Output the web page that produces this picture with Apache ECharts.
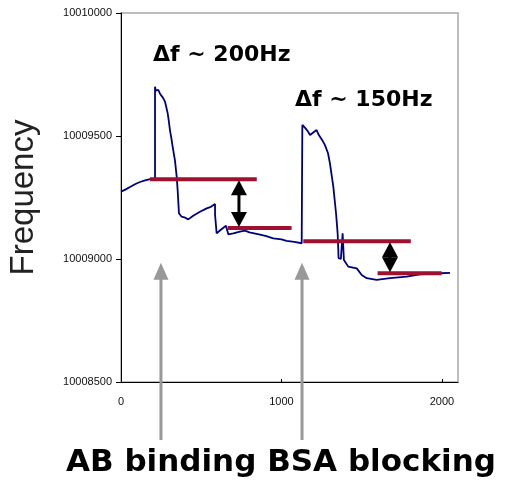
<!DOCTYPE html>
<html>
<head>
<meta charset="utf-8">
<script src="https://cdn.jsdelivr.net/npm/echarts@6/dist/echarts.min.js"></script>
<style>
  html, body { margin: 0; padding: 0; background: #fff; }
  #chart { width: 506px; height: 482px; }
</style>
</head>
<body>
<div id="chart"></div>
<script>
// Sensor resonance frequency trace (time in s, frequency in Hz)
const time = [0, 30, 56, 90, 118, 150, 181, 212, 212, 217, 222, 232, 243, 254, 262, 274, 282, 291, 298, 305, 314, 322, 336, 347, 353, 361, 378, 400, 419, 450, 492, 534, 560, 586, 586, 596, 620, 654, 669, 700, 741, 773, 800, 845, 900, 949, 1000, 1032, 1080, 1126, 1130, 1130, 1150, 1165, 1178, 1200, 1219, 1232, 1240, 1255, 1271, 1290, 1302, 1323, 1340, 1350, 1356, 1370, 1381, 1389, 1416, 1469, 1479, 1500, 1531, 1593, 1676, 1780, 1863, 1988, 2050];
const freq = [10009274, 10009283, 10009293, 10009305, 10009313, 10009320, 10009325, 10009327, 10009700, 10009684, 10009680, 10009688, 10009672, 10009667, 10009655, 10009640, 10009618, 10009592, 10009560, 10009524, 10009490, 10009456, 10009402, 10009335, 10009280, 10009186, 10009172, 10009168, 10009161, 10009176, 10009192, 10009206, 10009212, 10009224, 10009180, 10009104, 10009118, 10009135, 10009100, 10009104, 10009111, 10009115, 10009108, 10009102, 10009094, 10009084, 10009080, 10009074, 10009070, 10009064, 10009056, 10009545, 10009531, 10009518, 10009504, 10009515, 10009524, 10009505, 10009497, 10009482, 10009463, 10009430, 10009389, 10009294, 10009186, 10009104, 10009003, 10009000, 10009104, 10008996, 10008969, 10008962, 10008969, 10008935, 10008922, 10008915, 10008922, 10008928, 10008938, 10008942, 10008944];

// Baseline levels before / after each step: [xStart, xEnd, level]
const levelStart = [181, 665, 1136, 1599];
const levelEnd = [846, 1063, 1806, 1998];
const levelValue = [10009324, 10009126, 10009072, 10008942];

// Injection markers (gray arrows) and shift markers (double arrows)
const injectTime = [249, 1128];
const injectTop = 10008985;
const injectBottom = 10008264;
const shiftTime = [735, 1676];
const shiftHigh = [10009324, 10009072];
const shiftLow = [10009126, 10008942];

const shiftText = ['\u0394f ~ 200Hz', '\u0394f ~ 150Hz'];
const stepText = 'AB binding BSA blocking';

const xTicks = { min: 0, max: 2100, interval: 1000 };
const yTicks = { min: 10008500, max: 10010000, interval: 500 };

const chart = echarts.init(document.getElementById('chart'), null, { renderer: 'canvas' });

const trace = time.map((t, i) => [t, freq[i]]);
const levels = [];
levelValue.forEach((v, i) => {
  levels.push([levelStart[i], v], [levelEnd[i], v]);
  if (i < levelValue.length - 1) levels.push([null, '-']);
});

const tickFont = { fontFamily: 'Liberation Sans, Arial, sans-serif', fontSize: 11, color: '#111' };

chart.setOption({
  animation: false,
  backgroundColor: '#fff',
  grid: {
    left: 121, top: 13, right: 48, bottom: 100,
    outerBoundsMode: 'none', containLabel: false,
    show: true, borderColor: '#a8a8a8', borderWidth: 1.5, backgroundColor: 'transparent'
  },
  xAxis: {
    type: 'value', min: xTicks.min, max: xTicks.max, interval: xTicks.interval,
    axisLine: { onZero: false, lineStyle: { color: '#000', width: 1 } },
    axisTick: { inside: true, length: 3, lineStyle: { color: '#000' } },
    axisLabel: Object.assign({ margin: 14, showMaxLabel: false, formatter: v => String(v) }, tickFont),
    splitLine: { show: false }
  },
  yAxis: {
    type: 'value', min: yTicks.min, max: yTicks.max, interval: yTicks.interval,
    name: 'Frequency', nameLocation: 'middle', nameRotate: 90, nameGap: 81,
    nameTextStyle: { fontFamily: 'Liberation Sans, Arial, sans-serif', fontSize: 33, color: '#222' },
    axisLine: { show: true, lineStyle: { color: '#000', width: 1 } },
    axisTick: { inside: false, length: 5, lineStyle: { color: '#000' } },
    axisLabel: Object.assign({ margin: 9, formatter: v => String(v) }, tickFont),
    splitLine: { show: false }
  },
  series: [
    {
      type: 'line', data: trace, showSymbol: false, symbol: 'none',
      lineStyle: { color: '#00007f', width: 1.8 }, z: 3
    },
    {
      type: 'line', data: levels, showSymbol: false, symbol: 'none', connectNulls: false,
      lineStyle: { color: '#a0102f', width: 4 }, z: 4
    }
  ]
});

// Annotation arrows are placed from data coordinates
function px(x, y) { return chart.convertToPixel({ gridIndex: 0 }, [x, y]); }

const graphics = [];
injectTime.forEach(t => {
  const top = px(t, injectTop);
  const bottom = px(t, injectBottom);
  const headH = 17, headW = 15;
  graphics.push({
    type: 'line', silent: true, z: 10,
    shape: { x1: top[0], y1: top[1] + headH - 1, x2: bottom[0], y2: bottom[1] },
    style: { stroke: '#999', lineWidth: 3 }
  });
  graphics.push({
    type: 'polygon', silent: true, z: 10,
    shape: { points: [[top[0], top[1]], [top[0] - headW / 2, top[1] + headH], [top[0] + headW / 2, top[1] + headH]] },
    style: { fill: '#999' }
  });
});

shiftTime.forEach((t, i) => {
  const hi = px(t, shiftHigh[i]);
  const lo = px(t, shiftLow[i]);
  const headH = Math.min(15, (lo[1] - hi[1]) / 2), headW = 16;
  graphics.push({
    type: 'line', silent: true, z: 11,
    shape: { x1: hi[0], y1: hi[1] + headH, x2: lo[0], y2: lo[1] - headH },
    style: { stroke: '#000', lineWidth: 3 }
  });
  graphics.push({
    type: 'polygon', silent: true, z: 11,
    shape: { points: [[hi[0], hi[1] + 1], [hi[0] - headW / 2, hi[1] + headH + 1], [hi[0] + headW / 2, hi[1] + headH + 1]] },
    style: { fill: '#000' }
  });
  graphics.push({
    type: 'polygon', silent: true, z: 11,
    shape: { points: [[lo[0], lo[1] - 1], [lo[0] - headW / 2, lo[1] - headH - 1], [lo[0] + headW / 2, lo[1] - headH - 1]] },
    style: { fill: '#000' }
  });
});

const boldFont = 'DejaVu Sans, Verdana, sans-serif';
graphics.push({
  type: 'text', silent: true, z: 12, x: 153, y: 55,
  style: { text: shiftText[0], font: 'bold 22px ' + boldFont, fill: '#000', verticalAlign: 'middle' }
});
graphics.push({
  type: 'text', silent: true, z: 12, x: 295, y: 100,
  style: { text: shiftText[1], font: 'bold 22px ' + boldFont, fill: '#000', verticalAlign: 'middle' }
});
graphics.push({
  type: 'text', silent: true, z: 12, x: 66, y: 463,
  style: { text: stepText, font: 'bold 31px ' + boldFont, fill: '#000', verticalAlign: 'middle' }
});

chart.setOption({ graphic: { elements: graphics } });
</script>
</body>
</html>
